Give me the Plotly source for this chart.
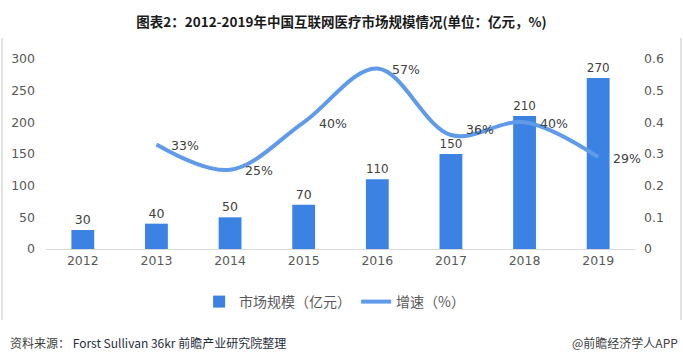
import plotly.graph_objects as go

years = ["2012", "2013", "2014", "2015", "2016", "2017", "2018", "2019"]
market_size = [30, 40, 50, 70, 110, 150, 210, 270]
growth_years = ["2013", "2014", "2015", "2016", "2017", "2018", "2019"]
growth_rate = [0.33, 0.25, 0.40, 0.57, 0.36, 0.40, 0.29]
growth_labels = ["33%", "25%", "40%", "57%", "36%", "40%", "29%"]
left_ticks = [0, 50, 100, 150, 200, 250, 300]
right_ticks = [0, 0.1, 0.2, 0.3, 0.4, 0.5, 0.6]

W, H = 683, 362
L, R, T, B = 46, 48, 59, 113
ph = H - T - B
pw = W - L - R

def py(pix):
    return (H - B - pix) / ph

def px(pix):
    return (pix - L) / pw

num_font = "DejaVu Sans, Noto Sans CJK SC, sans-serif"
cjk_font = "Noto Sans CJK SC, sans-serif"
gray = "#595959"

fig = go.Figure()
fig.add_trace(go.Bar(
    x=years, y=market_size, name="市场规模（亿元）",
    marker=dict(color="#3B82E2", line=dict(width=0)),
    text=[str(v) for v in market_size], textposition="outside",
    textfont=dict(family=num_font, size=12.5, color="#404040"),
    cliponaxis=False, width=0.31,
))
fig.add_trace(go.Scatter(
    x=growth_years, y=growth_rate, name="增速（%）", yaxis="y2",
    mode="lines", line=dict(color="#5F9BE8", width=4, shape="spline", smoothing=1.0),
))

for xv, yv, lab in zip(growth_years, growth_rate, growth_labels):
    fig.add_annotation(x=years.index(xv), y=yv, xref="x", yref="y2", text=lab, showarrow=False,
                       xanchor="left", yanchor="middle", xshift=13,
                       yshift=(6 if lab == "36%" else -1),
                       font=dict(family=num_font, size=12.5, color="#404040"))

fig.update_layout(
    width=W, height=H, margin=dict(l=L, r=R, t=T, b=B),
    paper_bgcolor="white", plot_bgcolor="white",
    title=dict(text="<b>图表2：2012-2019年中国互联网医疗市场规模情况(单位：亿元，%)</b>",
               x=0.5, xanchor="center", y=1 - 22 / H, yanchor="middle",
               font=dict(family=cjk_font, size=13.5, color="#1A1A1A")),
    xaxis=dict(type="category", range=[-0.5, 7.5], showgrid=False, showline=True,
               linecolor="#D9D9D9", linewidth=1, ticks="",
               tickfont=dict(family=num_font, size=12.5, color=gray)),
    yaxis=dict(range=[0, 300], tickvals=left_ticks, showgrid=False, zeroline=False,
               showline=False, ticks="", ticklabelstandoff=10,
               tickfont=dict(family=num_font, size=12.5, color=gray)),
    yaxis2=dict(range=[0, 0.6], tickvals=right_ticks, ticktext=["0", "0.1", "0.2", "0.3", "0.4", "0.5", "0.6"],
                overlaying="y", side="right", showgrid=False, zeroline=False,
                showline=False, ticks="", ticklabelstandoff=8,
                tickfont=dict(family=num_font, size=12.5, color=gray)),
    legend=dict(orientation="h", x=0.49, xanchor="center", y=py(302), yanchor="middle",
                font=dict(family=cjk_font, size=14, color=gray), itemwidth=30,
                traceorder="normal", bgcolor="rgba(0,0,0,0)"),
    bargap=0.69,
    showlegend=True,
)

# frame borders
for xpix in (2, 681):
    fig.add_shape(type="line", xref="paper", yref="paper",
                  x0=px(xpix), x1=px(xpix), y0=py(38), y1=py(320),
                  line=dict(color="#D9D9D9", width=1.5))

fig.add_annotation(xref="paper", yref="paper", x=px(8), y=py(342), xanchor="left", yanchor="middle",
                   showarrow=False,
                   text="<span style='color:#404040'>资料来源：</span> <span style='color:#1F2D3D'>Forst Sullivan 36kr 前瞻产业研究院整理</span>",
                   font=dict(family=cjk_font, size=12))
fig.add_annotation(xref="paper", yref="paper", x=px(680), y=py(342), xanchor="right", yanchor="middle",
                   showarrow=False, text="@前瞻经济学人APP",
                   font=dict(family=cjk_font, size=12, color="#404040"))

fig.write_html("out.html", config={"displayModeBar": False},
               post_script="document.body.style.margin='0';document.body.style.overflow='hidden';")
